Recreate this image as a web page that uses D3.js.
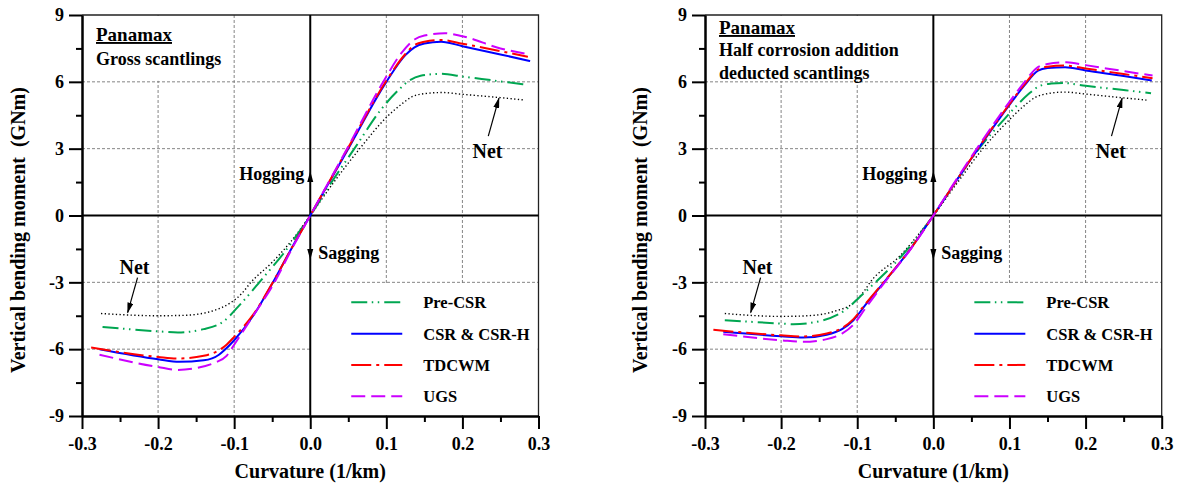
<!DOCTYPE html>
<html>
<head>
<meta charset="utf-8">
<script src="https://cdn.jsdelivr.net/npm/d3@7"></script>
<style>
  body { margin: 0; background: #fff; }
  svg text { font-family: "Liberation Serif", "Times New Roman", serif; font-weight: bold; fill: #000; }
</style>
</head>
<body>
<svg id="svg" width="1180" height="486"></svg>
<script>
// series names and styles (legend order)
const seriesNames = ["Pre-CSR", "CSR & CSR-H", "TDCWM", "UGS"];
const seriesColors = ["#00a651", "#0000ff", "#ff0000", "#cc00ff"];
const seriesDash = ["16,4.5,1.5,4.5,1.5,5", null, "20,5,3,5", "14,6"];

// ticks
const xTicks = [-0.3, -0.2, -0.1, 0, 0.1, 0.2, 0.3];
const xMinor = [-0.25, -0.15, -0.05, 0.05, 0.15, 0.25];
const yTicks = [-9, -6, -3, 0, 3, 6, 9];
const yMinor = [-7.5, -4.5, -1.5, 1.5, 4.5, 7.5];

// [curvature (1/km), moment (GNm)] - gross scantlings
const grossPreCSR = [[-0.273,-5.0],[-0.2,-5.2],[-0.174,-5.25],[-0.14,-5.1],[-0.113,-4.73],[-0.095,-4.1],[-0.078,-3.45],[-0.067,-3.0],[-0.034,-1.65],[0,0],
  [0.03,1.6],[0.058,3.0],[0.094,4.8],[0.115,5.6],[0.13,6.05],[0.145,6.27],[0.172,6.36],[0.2,6.24],[0.25,6.02],[0.285,5.87]];
const grossCSR = [[-0.277,-6.0],[-0.2,-6.45],[-0.172,-6.57],[-0.14,-6.5],[-0.12,-6.25],[-0.113,-6.05],[-0.1,-5.6],[-0.075,-4.5],[-0.049,-3.0],[-0.025,-1.5],[0,0],
  [0.05,3.0],[0.1,6.0],[0.125,7.2],[0.137,7.55],[0.15,7.72],[0.172,7.8],[0.2,7.6],[0.25,7.23],[0.289,6.93]];
const grossTDCWM = [[-0.288,-5.93],[-0.2,-6.35],[-0.174,-6.42],[-0.14,-6.3],[-0.12,-6.05],[-0.11,-5.8],[-0.1,-5.45],[-0.075,-4.45],[-0.05,-3.05],[-0.025,-1.5],[0,0],
  [0.05,3.05],[0.1,6.05],[0.125,7.25],[0.137,7.65],[0.15,7.8],[0.172,7.88],[0.2,7.71],[0.25,7.38],[0.286,7.12]];
const grossUGS = [[-0.277,-6.25],[-0.2,-6.8],[-0.174,-6.93],[-0.15,-6.85],[-0.125,-6.6],[-0.11,-6.3],[-0.1,-5.8],[-0.075,-4.5],[-0.047,-3.0],[-0.025,-1.55],[0,0],
  [0.05,3.1],[0.096,6.0],[0.12,7.3],[0.137,7.9],[0.15,8.08],[0.177,8.18],[0.2,8.05],[0.25,7.5],[0.287,7.24]];
const grossNet = [[-0.275,-4.4],[-0.2,-4.5],[-0.165,-4.48],[-0.13,-4.3],[-0.104,-3.9],[-0.09,-3.5],[-0.078,-3.0],[-0.05,-2.1],[-0.025,-1.15],[0,0],
  [0.03,1.45],[0.065,3.0],[0.1,4.4],[0.12,5.0],[0.135,5.35],[0.15,5.47],[0.173,5.52],[0.2,5.44],[0.25,5.29],[0.28,5.19]];

// half corrosion addition deducted scantlings
const halfPreCSR = [[-0.274,-4.7],[-0.2,-4.85],[-0.184,-4.88],[-0.15,-4.75],[-0.114,-4.2],[-0.095,-3.6],[-0.076,-3.0],[-0.04,-1.75],[0,0],
  [0.03,1.55],[0.061,3.05],[0.09,4.2],[0.11,4.95],[0.125,5.45],[0.14,5.82],[0.155,5.92],[0.17,5.95],[0.2,5.82],[0.25,5.63],[0.286,5.49]];
const halfCSR = [[-0.276,-5.22],[-0.2,-5.42],[-0.171,-5.48],[-0.14,-5.35],[-0.12,-5.1],[-0.105,-4.7],[-0.09,-4.05],[-0.065,-3.0],[-0.03,-1.5],[0,0],
  [0.03,1.55],[0.06,3.05],[0.1,4.97],[0.12,5.85],[0.1375,6.5],[0.15,6.62],[0.173,6.66],[0.2,6.51],[0.25,6.26],[0.287,6.06]];
const halfTDCWM = [[-0.289,-5.13],[-0.2,-5.38],[-0.172,-5.43],[-0.14,-5.3],[-0.12,-5.05],[-0.105,-4.65],[-0.09,-4.0],[-0.065,-2.98],[-0.03,-1.5],[0,0],
  [0.03,1.55],[0.06,3.08],[0.1,5.0],[0.12,5.9],[0.1375,6.55],[0.15,6.68],[0.173,6.73],[0.2,6.6],[0.25,6.35],[0.288,6.16]];
const halfUGS = [[-0.276,-5.33],[-0.2,-5.6],[-0.171,-5.67],[-0.14,-5.55],[-0.12,-5.3],[-0.105,-4.9],[-0.09,-4.2],[-0.064,-3.0],[-0.03,-1.52],[0,0],
  [0.03,1.6],[0.06,3.15],[0.1,5.1],[0.12,6.0],[0.135,6.6],[0.15,6.8],[0.175,6.88],[0.2,6.75],[0.25,6.48],[0.288,6.28]];
const halfNet = [[-0.274,-4.4],[-0.2,-4.53],[-0.165,-4.5],[-0.13,-4.3],[-0.104,-3.9],[-0.09,-3.35],[-0.083,-3.0],[-0.045,-1.85],[0,0],
  [0.03,1.4],[0.065,3.0],[0.1,4.3],[0.12,4.95],[0.135,5.32],[0.15,5.47],[0.173,5.54],[0.2,5.45],[0.25,5.28],[0.28,5.18]];

const panels = [
  { left: 82, right: 538.5, title: ["Gross scantlings"], boxEnd: -0.105,
    series: [grossPreCSR, grossCSR, grossTDCWM, grossUGS], net: grossNet, yLabelX: 25 },
  { left: 705, right: 1161.7, title: ["Half corrosion addition", "deducted scantlings"], boxEnd: -0.005,
    series: [halfPreCSR, halfCSR, halfTDCWM, halfUGS], net: halfNet, yLabelX: 647 }
];

const svg = d3.select("#svg");
const plotTop = 15, plotBottom = 416;

svg.append("defs").append("marker")
  .attr("id", "arrowhead")
  .attr("markerUnits", "userSpaceOnUse")
  .attr("markerWidth", 11).attr("markerHeight", 6)
  .attr("refX", 10).attr("refY", 3)
  .attr("orient", "auto")
  .append("path").attr("d", "M0,0 L11,3 L0,6 Z").attr("fill", "#000");

function drawPanel(p) {
  const x = d3.scaleLinear().domain([-0.3, 0.3]).range([p.left, p.right]);
  const y = d3.scaleLinear().domain([-9, 9]).range([plotBottom, plotTop]);
  const g = svg.append("g");

  // dashed grid
  g.selectAll(".vgrid").data([-0.2, -0.1, 0.1, 0.2]).join("line")
    .attr("x1", d => x(d)).attr("x2", d => x(d))
    .attr("y1", plotTop).attr("y2", plotBottom);
  g.selectAll(".hgrid").data([-6, -3, 3, 6]).join("line")
    .attr("x1", p.left).attr("x2", p.right)
    .attr("y1", d => y(d)).attr("y2", d => y(d));
  g.selectAll("line").attr("stroke", "#777").attr("stroke-width", 0.9).attr("stroke-dasharray", "3,2");

  // white boxes for title and legend
  g.append("rect").attr("x", p.left + 1).attr("y", plotTop + 1)
    .attr("width", x(p.boxEnd) - p.left - 1).attr("height", y(6) - plotTop - 2).attr("fill", "#fff");
  g.append("rect").attr("x", x(0)).attr("y", y(-3) + 1)
    .attr("width", p.right - x(0) - 1).attr("height", plotBottom - y(-3) - 2).attr("fill", "#fff");

  // frame top/right
  g.append("path")
    .attr("d", `M${p.left},${plotTop}H${p.right}V${plotBottom}`)
    .attr("fill", "none").attr("stroke", "#222").attr("stroke-width", 1.3);

  // zero lines
  g.append("line").attr("x1", p.left).attr("x2", p.right).attr("y1", y(0)).attr("y2", y(0))
    .attr("stroke", "#000").attr("stroke-width", 2);
  g.append("line").attr("x1", x(0)).attr("x2", x(0)).attr("y1", plotTop).attr("y2", plotBottom)
    .attr("stroke", "#000").attr("stroke-width", 2);

  // axes
  const styleAxis = a => {
    a.attr("font-family", null).attr("font-size", 18);
    a.select(".domain").attr("stroke-width", 2);
    a.selectAll(".tick line").attr("stroke-width", 2);
  };
  g.append("g").attr("transform", `translate(${p.left},0)`)
    .call(d3.axisLeft(y).tickValues(yMinor).tickSize(6).tickSizeOuter(0).tickFormat(""))
    .call(styleAxis);
  g.append("g").attr("transform", `translate(${p.left},0)`)
    .call(d3.axisLeft(y).tickValues(yTicks).tickSize(13).tickSizeOuter(0).tickPadding(5).tickFormat(d => String(d)))
    .call(styleAxis);
  g.append("g").attr("transform", `translate(0,${plotBottom})`)
    .call(d3.axisBottom(x).tickValues(xMinor).tickSize(6).tickSizeOuter(0).tickFormat(""))
    .call(styleAxis);
  g.append("g").attr("transform", `translate(0,${plotBottom})`)
    .call(d3.axisBottom(x).tickValues(xTicks).tickSize(13).tickSizeOuter(0).tickPadding(8).tickFormat(d => d.toFixed(1)))
    .call(styleAxis);

  // axis titles
  g.append("text").attr("x", (p.left + p.right) / 2).attr("y", 478)
    .attr("text-anchor", "middle").attr("font-size", 20).text("Curvature (1/km)");
  g.append("text").attr("transform", `translate(${p.yLabelX},230) rotate(-90)`)
    .attr("text-anchor", "middle").attr("font-size", 20).text("Vertical bending moment  (GNm)")
    .attr("xml:space", "preserve");

  // curves
  const line = d3.line().x(d => x(d[0])).y(d => y(d[1])).curve(d3.curveMonotoneX);
  g.append("path").datum(p.net).attr("d", line)
    .attr("fill", "none").attr("stroke", "#000").attr("stroke-width", 1.4).attr("stroke-dasharray", "1.3,2.4");
  [0, 1, 2, 3].forEach(i => {
    g.append("path").datum(p.series[i]).attr("d", line)
      .attr("fill", "none").attr("stroke", seriesColors[i]).attr("stroke-width", 2)
      .attr("stroke-dasharray", seriesDash[i]);
  });

  // legend
  const lx = x(0) + 41, ly0 = y(-3) + 20, step = 31.3;
  seriesNames.forEach((name, i) => {
    const yy = ly0 + i * step;
    g.append("line").attr("x1", lx).attr("x2", lx + 51).attr("y1", yy).attr("y2", yy)
      .attr("stroke", seriesColors[i]).attr("stroke-width", 2).attr("stroke-dasharray", seriesDash[i]);
    g.append("text").attr("x", lx + 72).attr("y", yy + 6).attr("font-size", 16.5).text(name);
  });

  // title
  g.append("text").attr("x", p.left + 14).attr("y", p.title.length > 1 ? 34 : 41)
    .attr("font-size", 19).attr("text-decoration", "underline").text("Panamax");
  p.title.forEach((t, i) => {
    g.append("text").attr("x", p.left + 14).attr("y", (p.title.length > 1 ? 56 : 65) + i * 23)
      .attr("font-size", 18).text(t);
  });

  // hogging / sagging
  const x0 = x(0);
  g.append("text").attr("x", x0 - 6).attr("y", 180).attr("text-anchor", "end").attr("font-size", 18).text("Hogging");
  g.append("path").attr("d", `M${x0 - 3},${182} L${x0},${171} L${x0 + 3},${182} Z`).attr("fill", "#000");
  g.append("text").attr("x", x0 + 8).attr("y", 259).attr("font-size", 18).text("Sagging");
  g.append("path").attr("d", `M${x0 - 3},${249} L${x0},${260} L${x0 + 3},${249} Z`).attr("fill", "#000");

  // Net annotations
  const notes = [
    { tx: 0.233, ty: 2.6, from: [0.234, 3.56], to: [0.248, 5.27] },
    { tx: -0.231, ty: -2.64, from: [-0.227, -2.79], to: [-0.24, -4.36] }
  ];
  notes.forEach(n => {
    g.append("text").attr("x", x(n.tx)).attr("y", y(n.ty)).attr("text-anchor", "middle")
      .attr("font-size", 20).text("Net");
    g.append("line").attr("x1", x(n.from[0])).attr("y1", y(n.from[1]))
      .attr("x2", x(n.to[0])).attr("y2", y(n.to[1]))
      .attr("stroke", "#000").attr("stroke-width", 1.2).attr("marker-end", "url(#arrowhead)");
  });
}

panels.forEach(drawPanel);
</script>
</body>
</html>
